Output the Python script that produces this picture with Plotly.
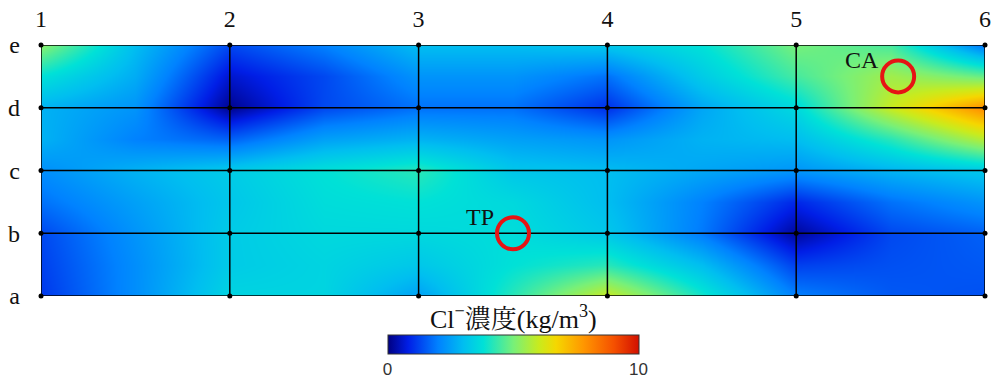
import plotly.graph_objects as go

# Grid columns (1..6) and rows (a..e), sampled at half steps where colours were read
col_labels = ["1", "2", "3", "4", "5", "6"]
row_labels = ["a", "b", "c", "d", "e"]
x_pos = [1, 1.5, 2, 2.5, 3, 3.5, 4, 4.5, 5, 5.5, 6]
y_pos = [0, 0.5, 1, 1.5, 2, 2.5, 3, 3.5, 4]

# Cl- concentration (kg/m3), bottom row (a) first
z_a   = [1.1, 2.2, 3.5, 3.5, 2.5, 4.2, 6.0, 4.0, 2.0, 1.5, 1.4]
z_ab  = [1.2, 2.2, 3.3, 3.5, 3.2, 3.8, 4.2, 3.0, 1.2, 1.4, 1.5]
z_b   = [1.3, 2.3, 3.3, 3.6, 3.6, 3.7, 3.2, 1.9, 0.2, 1.3, 1.6]
z_bc  = [1.8, 2.5, 3.2, 3.7, 3.8, 3.6, 3.0, 2.0, 0.9, 1.8, 2.3]
z_c   = [2.2, 2.8, 3.3, 3.8, 4.2, 3.2, 3.0, 2.6, 2.3, 2.8, 3.2]
z_cd  = [2.8, 2.0, 1.6, 2.5, 2.8, 2.5, 2.3, 2.8, 3.0, 4.2, 5.8]
z_d   = [2.8, 2.3, 0.1, 1.3, 1.8, 1.8, 1.0, 2.6, 3.6, 6.0, 8.0]
z_de  = [3.8, 2.7, 0.6, 1.3, 2.3, 2.3, 1.8, 3.3, 4.5, 5.5, 4.8]
z_e   = [5.2, 3.0, 1.3, 2.0, 3.0, 3.0, 3.2, 3.8, 5.0, 4.5, 1.8]
z_rows = [z_a, z_ab, z_b, z_bc, z_c, z_cd, z_d, z_de, z_e]

# Marked points
pt_names = ["CA", "TP"]
pt_x = [5.54, 3.5]
pt_y = [3.5, 1.0]

cbar_title = "Cl<sup>−</sup>濃度(kg/m<sup>3</sup>)"
cbar_ticks = [0, 10]

cscale = [
    [0.0, "rgb(0,0,130)"],
    [0.08, "rgb(0,30,230)"],
    [0.2, "rgb(0,130,255)"],
    [0.3, "rgb(0,190,240)"],
    [0.38, "rgb(0,225,215)"],
    [0.5, "rgb(120,240,120)"],
    [0.6, "rgb(200,235,30)"],
    [0.67, "rgb(245,215,0)"],
    [0.78, "rgb(255,150,0)"],
    [0.9, "rgb(245,80,0)"],
    [1.0, "rgb(210,15,0)"],
]

serif = "Liberation Serif, DejaVu Serif, serif"
red = "rgb(230,20,20)"

fig = go.Figure()
fig.add_trace(go.Heatmap(
    x=x_pos, y=y_pos, z=z_rows, zmin=0, zmax=10, zsmooth="best",
    colorscale=cscale, hoverinfo="skip",
    colorbar=dict(
        orientation="h", x=0.5, xanchor="center", y=-0.155, yanchor="top",
        len=251, lenmode="pixels", thickness=19, thicknessmode="pixels",
        outlinewidth=1, outlinecolor="#333",
        tickvals=cbar_ticks, ticktext=[str(t) for t in cbar_ticks], ticks="",
        tickfont=dict(family="Liberation Sans Narrow, Liberation Sans, sans-serif", size=17, color="#333"),
        xpad=0, ypad=0,
    ),
))
fig.add_annotation(xref="paper", yref="paper", x=0.5, y=-0.0876, xanchor="center", yanchor="middle",
                   text=cbar_title, showarrow=False,
                   font=dict(family="Liberation Serif, Noto Serif CJK JP, Noto Sans CJK JP, serif", size=26, color="#111"))

# grid lines
n_cols = len(col_labels)
n_rows = len(row_labels)
for i in range(n_cols):
    fig.add_trace(go.Scatter(x=[i + 1, i + 1], y=[0, n_rows - 1], mode="lines",
                             line=dict(color="black", width=1.5), showlegend=False, hoverinfo="skip"))
for j in range(n_rows):
    fig.add_trace(go.Scatter(x=[1, n_cols], y=[j, j], mode="lines",
                             line=dict(color="black", width=1.5), showlegend=False, hoverinfo="skip"))
gx = [i + 1 for i in range(n_cols) for j in range(n_rows)]
gy = [j for i in range(n_cols) for j in range(n_rows)]
fig.add_trace(go.Scatter(x=gx, y=gy, mode="markers", marker=dict(color="black", size=5),
                         showlegend=False, hoverinfo="skip", cliponaxis=False))

# marked points (red circles)
fig.add_trace(go.Scatter(
    x=pt_x, y=pt_y, mode="markers",
    marker=dict(symbol="circle-open", size=32, color=red, line=dict(width=4, color=red)),
    showlegend=False, hoverinfo="skip", cliponaxis=False,
))
for name, px, py in zip(pt_names, pt_x, pt_y):
    fig.add_annotation(x=px, y=py, text=name, showarrow=False,
                       xanchor="right", yanchor="middle", xshift=-17, yshift=16,
                       font=dict(family=serif, size=24, color="#111"))

fig.update_layout(
    width=995, height=381,
    margin=dict(l=41, r=10, t=45, b=85, autoexpand=False),
    paper_bgcolor="white", plot_bgcolor="white",
    xaxis=dict(range=[1, 6], side="top", tickvals=[1, 2, 3, 4, 5, 6], ticktext=col_labels,
               showgrid=False, zeroline=False, ticks="", ticklabelstandoff=12,
               tickfont=dict(family=serif, size=24, color="#111"), showline=False),
    yaxis=dict(range=[0, 4], tickvals=[0, 1, 2, 3, 4], ticktext=row_labels,
               showgrid=False, zeroline=False, ticks="", ticklabelstandoff=20,
               tickfont=dict(family=serif, size=24, color="#111"), showline=False),
)

fig.write_html("out.html", config={"displayModeBar": False},
               post_script="document.body.style.margin='0';")
